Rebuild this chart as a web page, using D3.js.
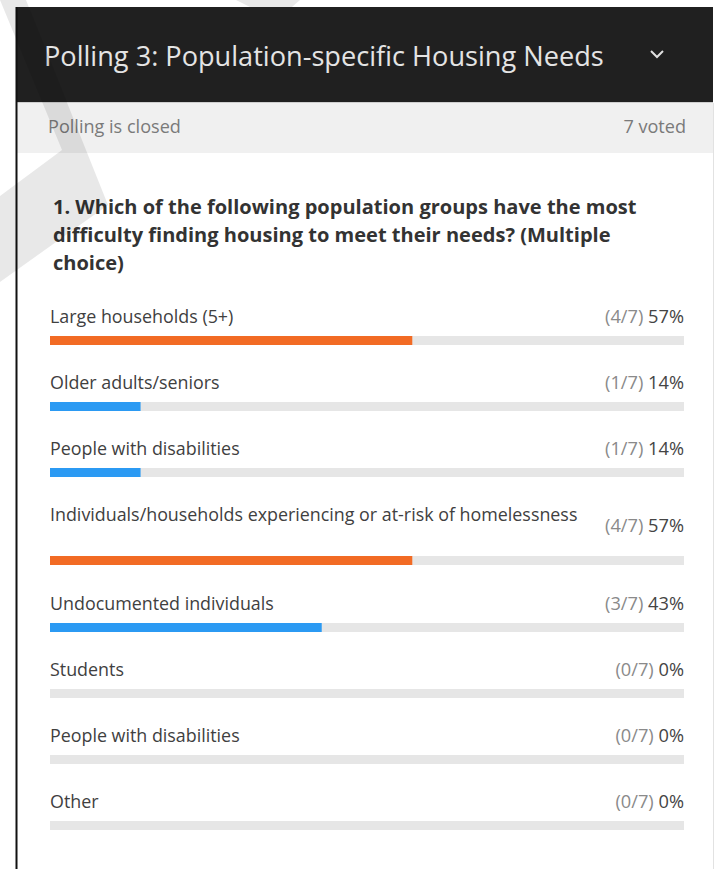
<!DOCTYPE html>
<html>
<head>
<meta charset="utf-8">
<script src="https://cdn.jsdelivr.net/npm/d3@7/dist/d3.min.js"></script>
<style>
  html, body { margin: 0; padding: 0; background: #fff; }
  svg { display: block; }
  text { font-family: "Open Sans", "Noto Sans", sans-serif; }
</style>
</head>
<body>
<svg id="chart" width="715" height="869"></svg>
<script>
// ---------- data ----------
const pollTitle = "Polling 3: Population-specific Housing Needs";
const pollStatus = "Polling is closed";
const votedLabel = "7 voted";
const totalVoters = 7;
const questionLines = [
  "1. Which of the following population groups have the most",
  "difficulty finding housing to meet their needs? (Multiple",
  "choice)"
];
const categories = [
  "Large households (5+)",
  "Older adults/seniors",
  "People with disabilities",
  "Individuals/households experiencing or at-risk of homelessness",
  "Undocumented individuals",
  "Students",
  "People with disabilities",
  "Other"
];
const votes = [4, 1, 1, 4, 3, 0, 0, 0];
const percentLabels = ["57%", "14%", "14%", "57%", "43%", "0%", "0%", "0%"];

// ---------- setup ----------
const svg = d3.select("#chart");
const W = 715, H = 869;

function fit(sel, target) {
  const node = sel.node();
  const fs = parseFloat(sel.attr("font-size"));
  const w = node.getComputedTextLength();
  return fs * target / w;
}

// panel
svg.append("rect").attr("x", 17).attr("y", 8).attr("width", 696).attr("height", H - 8).attr("fill", "#ffffff");
// subheader band
svg.append("rect").attr("x", 17).attr("y", 103).attr("width", 696).attr("height", 50).attr("fill", "#f0f0f0");
// header
svg.append("rect").attr("x", 17).attr("y", 7).attr("width", 696).attr("height", 95).attr("fill", "#202020");
svg.append("line").attr("x1", 17).attr("x2", 713).attr("y1", 102.5).attr("y2", 102.5).attr("stroke", "#cfcfcf").attr("stroke-width", 1);
// right edge
svg.append("line").attr("x1", 713.5).attr("x2", 713.5).attr("y1", 103).attr("y2", H).attr("stroke", "#e2e2e2").attr("stroke-width", 1);
// left border
svg.append("line").attr("x1", 16.5).attr("x2", 16.5).attr("y1", 7).attr("y2", H).attr("stroke", "#111").attr("stroke-width", 2);

// title
const title = svg.append("text").attr("x", 44).attr("y", 66).attr("font-size", 26)
  .attr("fill", "#e4e4e4").text(pollTitle);
title.attr("font-size", fit(title, 560));
// chevron
svg.append("polyline").attr("points", "651,51 657,57 663,51")
  .attr("fill", "none").attr("stroke", "#e0e0e0").attr("stroke-width", 2);

// subheader
const st = svg.append("text").attr("x", 48).attr("y", 133).attr("font-size", 16).attr("fill", "#7a7a7a").text(pollStatus);
const stFs = fit(st, 133);
st.attr("font-size", stFs);
svg.append("text").attr("x", 686).attr("y", 133).attr("font-size", stFs).attr("fill", "#7a7a7a")
  .attr("text-anchor", "end").text(votedLabel);

// question
const qBase = [214, 242, 270];
const q0 = svg.append("text").attr("x", 53).attr("y", qBase[0]).attr("font-size", 18)
  .attr("font-weight", "bold").attr("fill", "#333").text(questionLines[0]);
const qFs = fit(q0, 584);
q0.attr("font-size", qFs);
questionLines.slice(1).forEach((l, i) => {
  svg.append("text").attr("x", 53).attr("y", qBase[i + 1]).attr("font-size", qFs)
    .attr("font-weight", "bold").attr("fill", "#333").text(l);
});

// ---------- bars ----------
const x = d3.scaleLinear().domain([0, 1]).range([50, 684]);
const maxVotes = d3.max(votes);

const probe = svg.append("text").attr("font-size", 16).text(categories[3]);
const labFs = fit(probe, 528);
probe.remove();
const probe2 = svg.append("text").attr("font-size", 16).text("(4/7) 57%");
const pctFs = fit(probe2, 79);
probe2.remove();

let b = 323;
const rows = [];
categories.forEach((c, i) => {
  const t = svg.append("text").attr("font-size", labFs).text(c);
  const tall = t.node().getComputedTextLength() > 480;
  t.remove();
  rows.push({ cat: c, v: votes[i], pct: percentLabels[i], base: b, tall: tall });
  b += tall ? 89 : 66;
});

const g = svg.append("g");
const row = g.selectAll("g.row").data(rows).join("g").attr("class", "row");

row.append("text").attr("x", 50).attr("y", d => d.base).attr("font-size", labFs)
  .attr("fill", "#404040").text(d => d.cat);

const pct = row.append("text").attr("x", 684).attr("y", d => d.tall ? d.base + 11 : d.base)
  .attr("font-size", pctFs).attr("text-anchor", "end");
pct.append("tspan").attr("fill", "#8a8a8a").text(d => `(${d.v}/${totalVoters})`);
pct.append("tspan").attr("fill", "#444").text(d => " " + d.pct);

const barTop = d => d.tall ? d.base + 35 : d.base + 13;
row.append("rect").attr("x", x(0)).attr("y", barTop).attr("width", x(1) - x(0)).attr("height", 9)
  .attr("fill", "#e6e6e6");
row.append("rect").attr("x", x(0)).attr("y", barTop)
  .attr("width", d => x(d.v / totalVoters) - x(0)).attr("height", 9)
  .attr("fill", d => d.v === maxVotes ? "#f26b24" : "#2b9af3");

// ---------- watermark ----------
svg.append("polygon")
  .attr("points", "0,0 26,0 108,205 0,282 0,196 62,150")
  .attr("fill", "#000").attr("opacity", 0.09);
svg.append("polygon")
  .attr("points", "236,0 300,0 292,7 250,7")
  .attr("fill", "#000").attr("opacity", 0.09);
</script>
</body>
</html>
